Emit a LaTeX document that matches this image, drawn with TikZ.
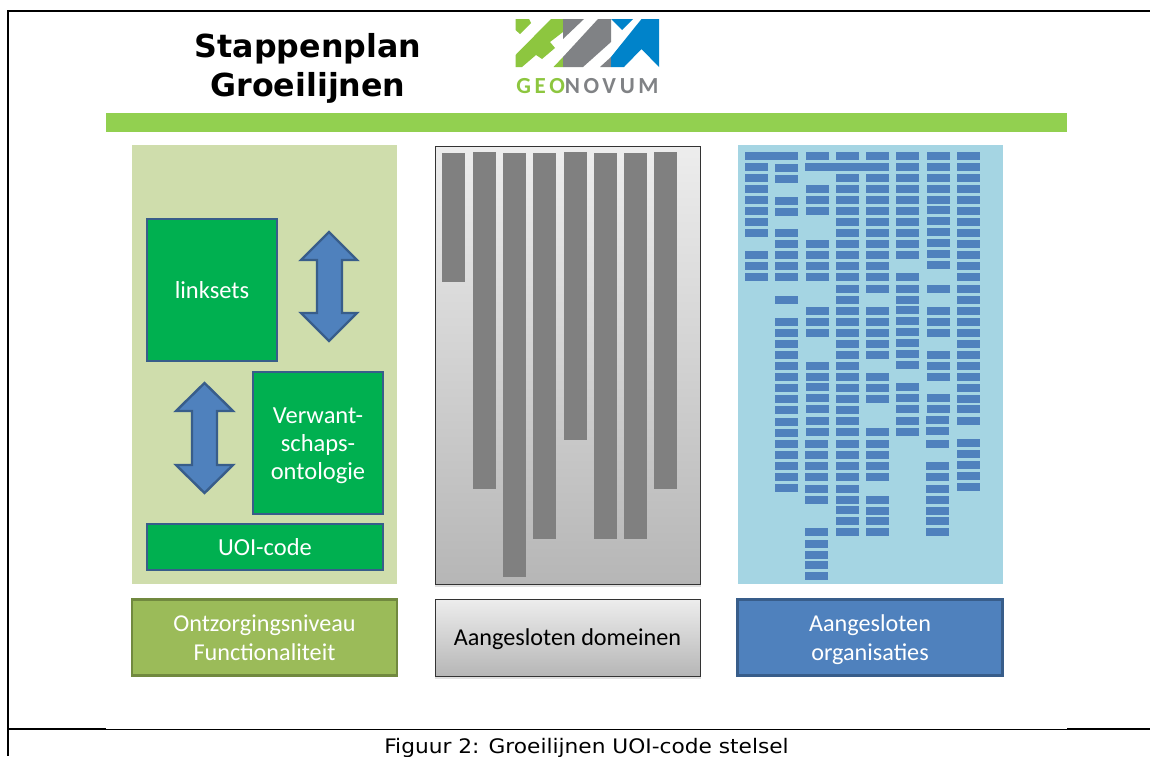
\documentclass[tikz,border=0pt]{standalone}
\usepackage{fontspec}
\setmainfont{Carlito}
\newfontfamily\verd{DejaVu Sans}
\newfontfamily\capfont[FakeStretch=1.085]{DejaVu Sans}
\newfontfamily\logofont[LetterSpace=16]{Carlito}
\definecolor{barblue}{HTML}{4F81BD}
\definecolor{edgeblue}{HTML}{385D8A}
\definecolor{panelgreen}{HTML}{CFDDAC}
\definecolor{panelblue}{HTML}{A5D5E3}
\definecolor{limebar}{HTML}{92D050}
\definecolor{boxgreen}{HTML}{00B050}
\definecolor{olive}{HTML}{9BBB59}
\definecolor{oliveedge}{HTML}{71893F}
\definecolor{logogreen}{HTML}{8DC63F}
\definecolor{logogray}{HTML}{808285}
\definecolor{logoblue}{HTML}{0083CA}
\definecolor{shaftgray}{HTML}{808080}
\definecolor{gradtop}{HTML}{EDEDED}
\definecolor{gradbot}{HTML}{B6B6B6}
\tikzset{
  greenbox/.style={draw=edgeblue,line width=2.4pt,fill=boxgreen,text=white,align=center,font=\fontsize{24.5}{28}\selectfont},
  greentext/.style={text=white,align=center,font=\fontsize{24.5}{27.8}\selectfont},
  labelbox/.style={align=center,font=\fontsize{24.2}{29}\selectfont},
  bigarrow/.style={draw=edgeblue,line width=2.4pt,fill=barblue,line join=miter},
  outline/.style={draw=black,line width=2pt},
  graygrad/.style={top color=gradtop,bottom color=gradbot,draw=black!80,line width=1pt},
  softshadow/.style={fill=black,opacity=.12},
}
\newcommand{\orgcol}[3]{%
  \foreach \yy in {#3} {\fill[barblue] (#1,\yy) rectangle (#2,\yy+8);}}
\begin{document}
\begin{tikzpicture}[x=1pt,y=-1pt]
\useasboundingbox (0,0) rectangle (1150,756);
\clip (0,0) rectangle (1150,756);
\fill[white] (0,0) rectangle (1150,756);
% frame
\draw[outline] (1150,11) -- (7.5,11) -- (7.5,756);
\draw[outline] (7.5,729) -- (106,729);
\draw[outline] (1067,729) -- (1150,729);
\draw[black,line width=1pt] (106,729) -- (1067,729);
% title
\node[font=\verd\bfseries\fontsize{31.7}{39}\selectfont,align=center] (title) at (308,68.5) {Stappenplan\\Groeilijnen};
% logo
\fill[logogreen] (515.5,19) -- (529,19) -- (531,23) -- (520,34) -- (515.5,30) -- cycle;
\fill[logogreen] (551,19) -- (563,19) -- (563,32) -- (550,42) -- (555,48) -- (542,59) -- (536,55) -- (522,67) -- (515.5,67) -- (515.5,55) -- cycle;
\fill[logogreen] (563,57) -- (563,67) -- (553.5,67) -- cycle;
\fill[logogray] (563,19) -- (584,19) -- (563,39) -- cycle;
\fill[logogray] (598,19) -- (611,19) -- (611,42) -- (583,67) -- (563,67) -- (563,57) -- cycle;
\fill[logogray] (611,57) -- (611,67) -- (600,67) -- cycle;
\fill[logoblue] (611,19) -- (633,19) -- (622,30) -- cycle;
\fill[logoblue] (641.5,19) -- (659,19) -- (659,67) -- (641.5,49) -- (624,67) -- (611,67) -- (611,57) -- cycle;
\node[font=\logofont\bfseries\fontsize{23}{23}\selectfont,anchor=base,inner sep=0pt] (logotext) at (587.5,93) {\textcolor{logogreen}{GEO}\textcolor{logogray}{NOVUM}};
% band
\fill[limebar] (106,113) rectangle (1067,132);
% panels
\fill[panelgreen] (132,145) rectangle (397,584);
\fill[softshadow] (435,148) rectangle (701,587);
\shade[graygrad] (435,146) rectangle (700,584);
\fill[panelblue] (738,145) rectangle (1003,584);
% left panel boxes
\node[greenbox,minimum width=130pt,minimum height=142pt,inner sep=0pt] (linksets) at (212,290) {linksets};
\node[greenbox,minimum width=130pt,minimum height=142pt,inner sep=0pt,label={[greentext,yshift=-3pt]center:{Verwant-\\schaps-\\ontologie}}] (verwant) at (318,443) {};
\node[greenbox,minimum width=236pt,minimum height=46pt,inner sep=0pt] (uoi) at (265,547) {UOI-code};
\draw[bigarrow] (329,232) -- (357,260) -- (342,260) -- (342,313) -- (357,313) -- (329,341) -- (301,313) -- (317,313) -- (317,260) -- (301,260) -- cycle;
\draw[bigarrow] (204.5,383) -- (233,411) -- (217,411) -- (217,465) -- (233,465) -- (204.5,493) -- (176,465) -- (192,465) -- (192,411) -- (176,411) -- cycle;
% domain bars
\fill[shaftgray] (442,153) rectangle (465,282);
\fill[shaftgray] (473,152) rectangle (496,489);
\fill[shaftgray] (503,153) rectangle (526,577);
\fill[shaftgray] (533,153) rectangle (556,539);
\fill[shaftgray] (564,152) rectangle (587,440);
\fill[shaftgray] (594,153) rectangle (617,539);
\fill[shaftgray] (624,153) rectangle (647,539);
\fill[shaftgray] (654,152) rectangle (677,489);
% organisation bars
\fill[barblue] (745,152) rectangle (798,160);
\fill[barblue] (805,163) rectangle (889,171);
\orgcol{745}{768}{163,174,185,196,207,218,229,251,262,273}
\orgcol{775}{798}{164,175,197,208,229,240,251,262,273,296,318,329,340,351,362,373,384,395,406,418,429,440,451,462,473,484}
\orgcol{806}{829}{152,185,196,207,240,251,262,273,307,318,329,362,373,383,394,405,417,428}
\orgcol{805}{828}{440,451,462,473,485,496,528,540,551,561,572}
\orgcol{836}{859}{152,174,185,196,207,218,229,240,251,262,273,285,296,307,318,329,340,351,362,373,384,395,406,417,428,440,451,462,473,485,496,506,517,528}
\orgcol{866}{889}{152,174,185,196,207,218,229,240,251,262,273,285,307,318,329,340,351,373,384,395,428,440,451,462,473,496,507,517,528}
\orgcol{896}{919}{152,163,174,185,196,207,218,229,240,251,273,285,296,306,317,328,339,350,361,383,394,405,417,428}
\orgcol{927}{950}{152,163,174,185,196,206,217,228,239,250,261,285,307,318,329,351,362,373,394,405}
\orgcol{926}{949}{416,427,440,462,473,485,496,507,517,528}
\orgcol{957}{980}{152,163,174,185,196,207,218,229,240,251,262,273,285,296,307,318,329,340,351,362,373,384,395,405,417,439,450,461,472,483}
% bottom labels
\node[labelbox,draw=oliveedge,line width=2.4pt,fill=olive,text=white,minimum width=265pt,minimum height=76pt,inner sep=0pt] (ontz) at (264.5,637.5) {Ontzorgingsniveau\\Functionaliteit};
\fill[softshadow] (435,602) rectangle (701,679);
\node[graygrad,shade,minimum width=265pt,minimum height=77pt,inner sep=0pt,label={[labelbox,text=black,yshift=-2pt]center:{Aangesloten domeinen}}] (domeinen) at (567.5,637.5) {};
\node[draw=edgeblue,line width=2.4pt,fill=barblue,minimum width=265pt,minimum height=76pt,inner sep=0pt,label={[labelbox,text=white,yshift=-2pt]center:{Aangesloten\\organisaties}}] (orgs) at (870,637.5) {};
% caption
\node[font=\capfont\fontsize{20}{24}\selectfont,anchor=base] (caption) at (586.5,753.5) {Figuur 2: Groeilijnen UOI-code stelsel};
\end{tikzpicture}
\end{document}
